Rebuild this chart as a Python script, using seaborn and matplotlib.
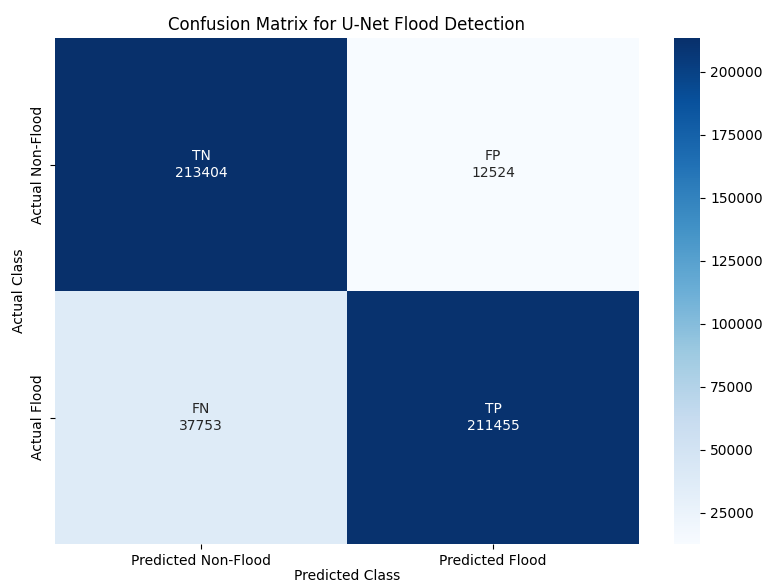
import numpy as np
import matplotlib
matplotlib.use("Agg")
import matplotlib.pyplot as plt
import seaborn as sns

# Confusion matrix counts (rows: actual, columns: predicted)
row_labels = ["Actual Non-Flood", "Actual Flood"]
col_labels = ["Predicted Non-Flood", "Predicted Flood"]
cell_tags = [["TN", "FP"], ["FN", "TP"]]
counts = [[213404, 12524], [37753, 211455]]

cm = np.array(counts)
annot = np.array([[f"{cell_tags[i][j]}\n{cm[i, j]}" for j in range(2)] for i in range(2)])

fig = plt.figure(figsize=(7.63, 5.85), dpi=100)
ax = fig.add_axes([0.072, 0.070, 0.7655, 0.865])
cax = fig.add_axes([0.883, 0.070, 0.035, 0.865])

sns.heatmap(cm, annot=annot, fmt="", cmap="Blues",
            xticklabels=col_labels, yticklabels=row_labels,
            ax=ax, cbar_ax=cax)

ax.set_title("Confusion Matrix for U-Net Flood Detection", fontsize=12)
ax.set_xlabel("Predicted Class", labelpad=1)
ax.set_ylabel("Actual Class")

fig.savefig("out.png", dpi=100)
